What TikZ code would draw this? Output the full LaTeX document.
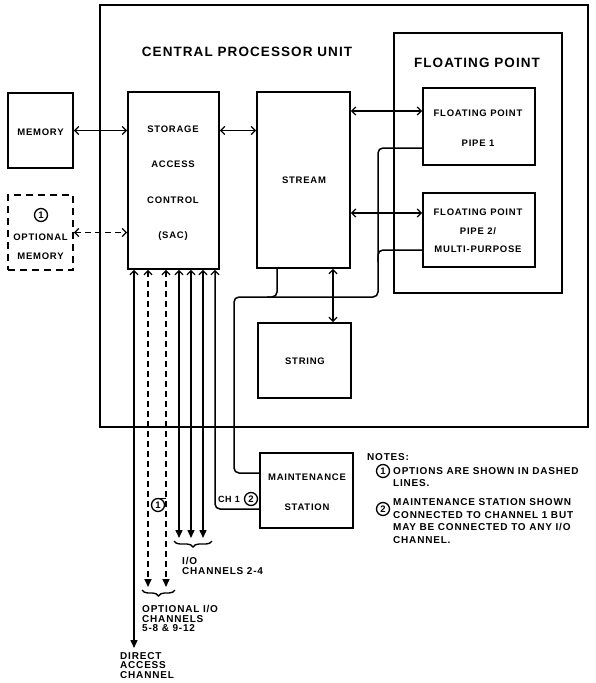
\documentclass[tikz,border=0pt]{standalone}
\usepackage{fontspec}
\setmainfont{Liberation Sans}[LetterSpace=8]
\usetikzlibrary{arrows.meta,decorations.pathreplacing,calc}
\begin{document}
\begin{tikzpicture}[x=1pt,y=-1pt,
  box/.style={draw, line width=1.8pt, inner sep=0},
  bigbox/.style={draw, line width=2.4pt, inner sep=0},
  dbox/.style={draw, line width=1.8pt, inner sep=0, dash pattern=on 7pt off 5pt},
  lbl/.style={inner sep=0, font=\bfseries\fontsize{9.5}{10}\selectfont},
  title/.style={inner sep=0, font=\bfseries\fontsize{13.5}{14}\selectfont},
  note/.style={inner sep=0, anchor=west, align=left, font=\bfseries\fontsize{10}{12.5}\selectfont},
  chl/.style={inner sep=0, anchor=north west, align=left, font=\bfseries\fontsize{10}{9.6}\selectfont},
  circ/.style={circle, draw, line width=1.3pt, inner sep=0pt, minimum size=13pt, font=\bfseries\fontsize{9.5}{9.5}\selectfont},
  conn/.style={line width=1.5pt},
  dconn/.style={line width=1.6pt, dash pattern=on 6pt off 4pt},
  barb/.tip={Straight Barb[length=4pt,width=8pt,line width=1.3pt]},
  tri/.tip={Triangle[length=8pt,width=7pt]},
  brc/.style={line width=1.4pt, decorate, decoration={brace,mirror,amplitude=6pt}}
]
\useasboundingbox (0,0) rectangle (595,683);

% boxes
\node[bigbox, minimum width=488pt, minimum height=422pt] (cpu) at (344,216) {};
\node[bigbox, minimum width=168pt, minimum height=260pt] (fp) at (478,163) {};
\node[box, minimum width=112pt, minimum height=77pt] (pipe1) at (479,126.5) {};
\node[box, minimum width=112pt, minimum height=74pt] (pipe2) at (479,230) {};
\node[box, minimum width=93pt, minimum height=176pt] (stream) at (303.5,180) {};
\node[box, minimum width=91pt, minimum height=177pt] (sac) at (173.5,180.5) {};
\node[box, minimum width=65pt, minimum height=75pt] (memory) at (40.5,130.5) {};
\node[dbox, minimum width=65pt, minimum height=75pt] (optmem) at (40.5,232.5) {};
\node[box, minimum width=93pt, minimum height=75pt] (string) at (304.5,360.5) {};
\node[box, minimum width=93pt, minimum height=75pt] (maint) at (306.5,490.5) {};

% titles and labels
\node[title] (tcpu) at (247,52) {CENTRAL PROCESSOR UNIT};
\node[title] (tfp) at (477,63) {FLOATING POINT};
\node[lbl] (tp1a) at (478,113) {FLOATING POINT};
\node[lbl] (tp1b) at (478,143) {PIPE 1};
\node[lbl] (tp2a) at (478,212) {FLOATING POINT};
\node[lbl] (tp2b) at (478,231) {PIPE 2/};
\node[lbl] (tp2c) at (478,249) {MULTI-PURPOSE};
\node[lbl] (tsa) at (173,129) {STORAGE};
\node[lbl] (tsb) at (173,164) {ACCESS};
\node[lbl] (tsc) at (173,200) {CONTROL};
\node[lbl] (tsd) at (173,236) {(SAC)};
\node[lbl] (tst) at (304,180) {STREAM};
\node[lbl] (tstr) at (305,361) {STRING};
\node[lbl] (tmem) at (40.5,132) {MEMORY};
\node[circ] (om1) at (41,215) {1};
\node[lbl] (tom1) at (40.5,237) {OPTIONAL};
\node[lbl] (tom2) at (40.5,256) {MEMORY};
\node[lbl] (tma) at (307,477) {MAINTENANCE};
\node[lbl] (tmb) at (307,507) {STATION};

% memory connections
\draw[conn, barb-barb] (memory.east) -- (sac.west |- memory.east);
\draw[dconn, barb-barb] (optmem.east) -- (sac.west |- optmem.east);
\draw[conn, barb-barb] (sac.east |- memory.east) -- (stream.west |- memory.east);

% stream to pipes and string
\coordinate (p1a) at (423,111);
\coordinate (p2a) at (423,213);
\draw[conn, barb-barb] (stream.east |- p1a) -- (pipe1.west |- p1a);
\draw[conn, barb-barb] (stream.east |- p2a) -- (pipe2.west |- p2a);
\coordinate (s2s) at (333,300);
\draw[conn, barb-barb] (stream.south -| s2s) -- (string.north -| s2s);

% maintenance bus
\coordinate (busTop) at (378,148);
\coordinate (bus2) at (378,250);
\coordinate (busBot) at (378,297);
\coordinate (busL) at (234,297);
\coordinate (busM) at (234,473);
\coordinate (sb) at (277,297);
\draw[conn, rounded corners=5pt] (pipe1.west |- busTop) -- (busTop) -- (busBot) -- (busL) -- (busM) -- (maint.west |- busM);
\draw[conn, rounded corners=5pt] (pipe2.west |- bus2) -- (bus2) -- ($(bus2)+(0,12)$);
\draw[conn, rounded corners=5pt] (stream.south -| sb) -- (sb) -- ($(sb)+(-10,0)$);

% channel 1
\coordinate (ch1) at (215,509);
\draw[conn, rounded corners=5pt, barb-] (sac.south -| ch1) -- (ch1) -- (maint.west |- ch1);
\node[inner sep=0, font=\bfseries\fontsize{9}{9}\selectfont] (tch) at (229,499) {CH 1};
\node[circ] (c2) at (251,499) {2};

% channels
\coordinate (c0) at (134,648);
\coordinate (c1) at (179,538);
\coordinate (c2b) at (191,538);
\coordinate (c3) at (203,538);
\coordinate (d1) at (148,587);
\coordinate (d2) at (166,587);
\draw[conn, barb-tri] (sac.south -| c0) -- (c0);
\draw[conn, barb-tri] (sac.south -| c1) -- (c1);
\draw[conn, barb-tri] (sac.south -| c2b) -- (c2b);
\draw[conn, barb-tri] (sac.south -| c3) -- (c3);
\draw[dconn, barb-tri] (sac.south -| d1) -- (d1);
\draw[dconn, barb-tri] (sac.south -| d2) -- (d2);
\node[circ, fill=white] (od) at (158,505) {1};
\draw[conn] (od.70) -- (od.70 -| d2);

% braces
\coordinate (bra) at (174,541);
\coordinate (brb) at (212,541);
\coordinate (brc) at (142,590);
\coordinate (brd) at (175,590);
\draw[brc] (bra) -- (brb);
\draw[brc] (brc) -- (brd);

% channel labels
\node[chl] (lio) at (182,557) {I/O\\CHANNELS 2-4};
\node[chl] (lopt) at (142,605) {OPTIONAL I/O\\CHANNELS\\5-8 \& 9-12};
\node[chl] (ldir) at (120,652) {DIRECT\\ACCESS\\CHANNEL};

% notes
\node[note] (nt) at (367,457) {NOTES:};
\node[circ] (n1) at (383,471) {1};
\node[note] (n1t) at (393,477) {OPTIONS ARE SHOWN IN DASHED\\LINES.};
\node[circ] (n2) at (383,509) {2};
\node[note] (n2t) at (393,521) {MAINTENANCE STATION SHOWN\\CONNECTED TO CHANNEL 1 BUT\\MAY BE CONNECTED TO ANY I/O\\CHANNEL.};
\end{tikzpicture}
\end{document}
